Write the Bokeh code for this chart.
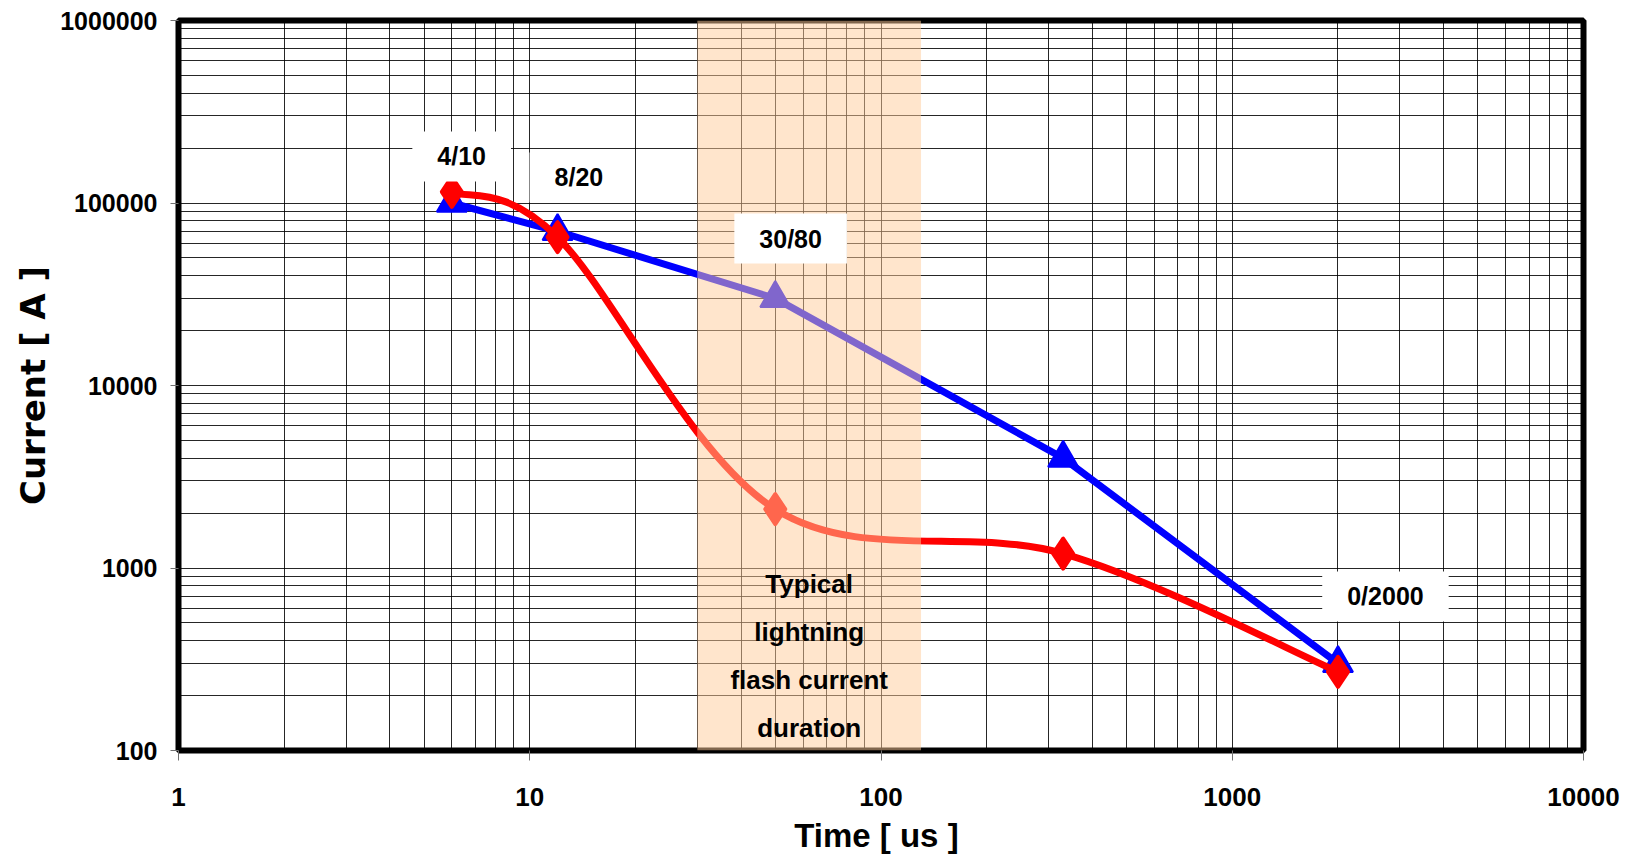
import math
from bokeh.plotting import figure
from bokeh.models import (FixedTicker, NumeralTickFormatter, BoxAnnotation, Label,
                          ColumnDataSource)
from bokeh.embed import file_html
from bokeh.resources import INLINE

# ---------------- data ----------------
time_us = [6, 12, 50, 330, 2000]
current_blue = [100000, 70000, 30000, 4000, 300]
current_red = [115000, 65000, 2100, 1200, 270]
wave_labels = ["4/10", "8/20", "30/80", "0/2000"]
shade_time = [30, 130]
note_lines = ["Typical", "lightning", "flash current", "duration"]
x_ticks = [1, 10, 100, 1000, 10000]
y_ticks = [100, 1000, 10000, 100000, 1000000]

# ---------------- figure ----------------
p = figure(width=1638, height=859, x_axis_type="log", y_axis_type="log",
           x_range=(1, 10000), y_range=(100, 1000000),
           output_backend="svg", toolbar_location=None,
           min_border_left=178, min_border_right=55,
           min_border_top=20, min_border_bottom=109)
p.background_fill_color = "white"
p.border_fill_color = "white"
p.outline_line_color = "black"
p.outline_line_width = 6

x_minor = [m * 10 ** d for d in range(0, 4) for m in range(2, 10)]
y_minor = [m * 10 ** d for d in range(2, 6) for m in range(2, 10)]
xt = FixedTicker(ticks=x_ticks, minor_ticks=x_minor)
yt = FixedTicker(ticks=y_ticks, minor_ticks=y_minor)
p.xaxis.ticker = xt
p.xgrid.ticker = xt
p.yaxis.ticker = yt
p.ygrid.ticker = yt
p.xaxis.formatter = NumeralTickFormatter(format="0")
p.yaxis.formatter = NumeralTickFormatter(format="0")

for g in (p.xgrid, p.ygrid):
    g.grid_line_color = "black"
    g.grid_line_width = 1
    g.grid_line_alpha = 0.85
    g.minor_grid_line_color = "black"
    g.minor_grid_line_width = 1
    g.minor_grid_line_alpha = 0.85

for ax in (p.xaxis, p.yaxis):
    ax.axis_line_color = None
    ax.major_tick_line_color = "#707070"
    ax.major_tick_line_width = 1
    ax.major_tick_in = 0
    ax.minor_tick_line_color = None
    ax.major_label_text_font = "Liberation Sans"
    ax.major_label_text_font_style = "bold"
    ax.major_label_text_color = "black"
    ax.axis_label_text_font_style = "bold"
    ax.axis_label_text_color = "black"

p.xaxis.major_label_text_font_size = "26px"
p.yaxis.major_label_text_font_size = "25px"
p.xaxis.major_tick_out = 10
p.xaxis.major_label_standoff = 27
p.yaxis.major_tick_out = 8
p.yaxis.major_label_standoff = 13

p.xaxis.axis_label = "Time  [ us ]"
p.xaxis.axis_label_text_font = "Liberation Sans"
p.xaxis.axis_label_text_font_size = "33px"
p.xaxis.axis_label_standoff = 8

p.yaxis.axis_label = "Current [ A ]"
p.yaxis.axis_label_text_font = "DejaVu Sans"
p.yaxis.axis_label_text_font_size = "34px"
p.yaxis.axis_label_standoff = 4

# ---------------- series ----------------
blue = "#0000FF"
red = "#FF0000"

p.line(time_us, current_blue, line_color=blue, line_width=7, line_join="round")
p.scatter(time_us, current_blue, marker="triangle", size=30,
          fill_color=blue, line_color=blue, line_width=2)

# red series drawn as an Excel-style smoothed line (Bezier through the points)
lx = [math.log10(v) for v in time_us]
ly = [math.log10(v) for v in current_red]
n = len(lx)
seg = dict(x0=[], y0=[], x1=[], y1=[], cx0=[], cy0=[], cx1=[], cy1=[])
for i in range(n - 1):
    a = i - 1 if i > 0 else i
    b = i + 2 if i + 2 < n else i + 1
    seg["x0"].append(time_us[i]); seg["y0"].append(current_red[i])
    seg["x1"].append(time_us[i + 1]); seg["y1"].append(current_red[i + 1])
    seg["cx0"].append(10 ** (lx[i] + (lx[i + 1] - lx[a]) / 6))
    seg["cy0"].append(10 ** (ly[i] + (ly[i + 1] - ly[a]) / 6))
    seg["cx1"].append(10 ** (lx[i + 1] - (lx[b] - lx[i]) / 6))
    seg["cy1"].append(10 ** (ly[i + 1] - (ly[b] - ly[i]) / 6))
p.bezier(x0="x0", y0="y0", x1="x1", y1="y1", cx0="cx0", cy0="cy0",
         cx1="cx1", cy1="cy1", source=ColumnDataSource(seg),
         line_color=red, line_width=7, line_cap="round")
p.scatter(time_us, current_red, marker="diamond", size=30,
          fill_color=red, line_color=red, line_width=4, line_join="round")

# ---------------- shaded band ----------------
p.add_layout(BoxAnnotation(left=shade_time[0], right=shade_time[1],
                           fill_color="#FFCC99", fill_alpha=0.5,
                           line_color=None))

# ---------------- labels ----------------
label_pos = [(6.4, 180000), (13.8, 138000), (55.3, 63800), (2730, 698)]
for txt, (lxp, lyp) in zip(wave_labels, label_pos):
    p.add_layout(Label(x=lxp, y=lyp, text=txt, text_align="center",
                       text_baseline="middle", text_font="Liberation Sans",
                       text_font_style="bold", text_font_size="25px",
                       text_color="black", background_fill_color="white",
                       background_fill_alpha=1.0, padding=(25, 11)))

note_x = math.sqrt(shade_time[0] * shade_time[1])
note_y = [813, 444, 242, 132]
for txt, ny in zip(note_lines, note_y):
    p.add_layout(Label(x=note_x, y=ny, text=txt, text_align="center",
                       text_baseline="middle", text_font="Liberation Sans",
                       text_font_style="bold", text_font_size="26px",
                       text_color="black"))

with open("out.html", "w") as f:
    f.write(file_html(p, INLINE))
